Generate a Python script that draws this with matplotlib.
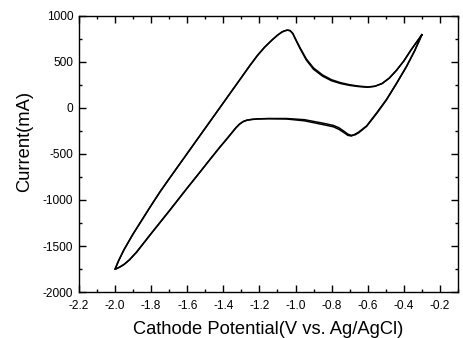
# -*- coding: utf-8 -*-
##循环伏安曲线 (CV), 两圈几乎重合##
import matplotlib
matplotlib.use("Agg")
import numpy as np
import matplotlib.pyplot as plt
from matplotlib.ticker import MultipleLocator

##阴极扫描: -0.3 V -> -2.0 V##
E_cat = [-0.30, -0.34, -0.385, -0.44, -0.496, -0.55, -0.606, -0.65, -0.67, -0.69,
         -0.71, -0.73, -0.76, -0.79, -0.85, -0.95, -1.05, -1.15, -1.21, -1.245,
         -1.27, -1.29, -1.31, -1.33, -1.355, -1.38, -1.42, -1.47, -1.52, -1.60,
         -1.70, -1.80, -1.88, -1.92, -1.95, -1.975, -2.00]
I_cat1 = [795, 620, 449, 265, 87, -60, -200, -270, -292, -298,
          -285, -255, -215, -190, -165, -128, -115, -115, -119, -125,
          -133, -148, -175, -215, -275, -335, -428, -550, -674, -870,
          -1120, -1365, -1565, -1650, -1700, -1730, -1753]
I_cat2 = [795, 622, 452, 270, 92, -52, -195, -262, -285, -305,
          -298, -270, -232, -205, -180, -140, -120, -117, -120, -126,
          -134, -149, -176, -216, -276, -336, -429, -551, -675, -871,
          -1121, -1366, -1566, -1651, -1701, -1731, -1753]

##阳极扫描: -2.0 V -> -0.3 V##
E_an = [-2.00, -1.98, -1.95, -1.90, -1.85, -1.80, -1.75, -1.70, -1.60, -1.50,
        -1.40, -1.30, -1.25, -1.21, -1.17, -1.13, -1.10, -1.075, -1.06, -1.045,
        -1.03, -1.015, -1.00, -0.976, -0.94, -0.90, -0.85, -0.80, -0.75, -0.70,
        -0.65, -0.60, -0.56, -0.52, -0.48, -0.44, -0.40, -0.36, -0.32, -0.30]
I_an1 = [-1753, -1660, -1540, -1370, -1215, -1060, -910, -770, -495, -220,
         55, 330, 468, 572, 662, 738, 790, 825, 838, 845,
         840, 808, 745, 650, 520, 420, 345, 295, 265, 245,
         232, 225, 235, 265, 325, 410, 510, 630, 740, 795]
I_an2 = [-1753, -1660, -1540, -1370, -1215, -1060, -910, -770, -495, -220,
         55, 330, 468, 572, 662, 738, 790, 825, 838, 845,
         840, 810, 750, 658, 532, 434, 358, 306, 274, 252,
         237, 228, 236, 266, 325, 410, 510, 630, 740, 795]

plt.rcParams['font.family'] = ['Liberation Sans', 'DejaVu Sans']
##坐标轴负号用普通连字符##
plt.rcParams['axes.unicode_minus'] = False

fig = plt.figure(figsize=(4.64, 3.38), dpi=100)
ax = fig.add_axes([0.170, 0.136, 0.817, 0.817])

##两圈依次画出##
for i_cat, i_an in [(I_cat1, I_an1), (I_cat2, I_an2)]:
    E = np.concatenate([E_cat, E_an])
    I = np.concatenate([i_cat, i_an])
    ax.plot(E, I, color="black", linewidth=1.1)

ax.set_xlim(-2.2, -0.1)
ax.set_ylim(-2000, 1000)
ax.xaxis.set_minor_locator(MultipleLocator(0.1))
ax.yaxis.set_major_locator(MultipleLocator(500))
ax.yaxis.set_minor_locator(MultipleLocator(250))
xt = np.arange(-2.2, -0.15, 0.2)
ax.set_xticks(xt)
ax.set_xticklabels([f"{v:.1f}" for v in xt])

ax.tick_params(which="both", direction="in", top=True, right=True,
               labelsize=8.6, width=1.0)
ax.tick_params(which="major", length=5)
ax.tick_params(axis="x", which="major", pad=6)
ax.tick_params(axis="y", which="major", pad=4)
ax.tick_params(which="minor", length=2.5)
for s in ax.spines.values():
    s.set_linewidth(1.0)

ax.set_xlabel("Cathode Potential(V vs. Ag/AgCl)", fontsize=13.2, labelpad=6)
ax.set_ylabel("Current(mA)", fontsize=13.2)
ax.yaxis.set_label_coords(-0.12, 0.545)

plt.savefig("out.png", dpi=100)
